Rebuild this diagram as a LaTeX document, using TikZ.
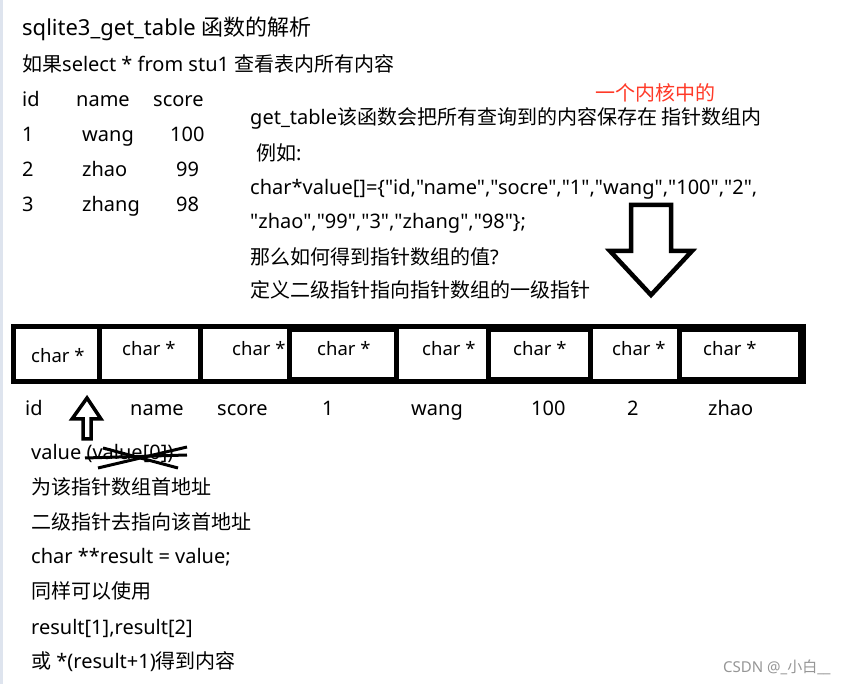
\documentclass[tikz,border=0pt]{standalone}
\usepackage{fontspec}
\setmainfont{Noto Sans}
\newfontfamily\cjk{Noto Sans CJK SC}
\newfontfamily\codefont{Noto Sans}
\usetikzlibrary{positioning}
\definecolor{notered}{RGB}{255,58,40}
\definecolor{edgegray}{RGB}{222,228,238}
\definecolor{markgray}{RGB}{150,150,150}
\tikzset{
  txt/.style={anchor=base west,inner sep=0pt,font=\fontsize{20}{24}\selectfont},
  ttl/.style={txt,font=\fontsize{22}{26}\selectfont},
  celltxt/.style={anchor=base west,inner sep=0pt,font=\fontsize{18.5}{22}\selectfont},
  lbl/.style={anchor=base west,inner sep=0pt,font=\fontsize{20}{24}\selectfont},
  cellbox/.style={line width=5pt},
  cellin/.style={line width=3pt},
  blockarrow/.style={line width=4.5pt,line join=miter},
  crossout/.style={line width=3pt}
}

\begin{document}
\begin{tikzpicture}[x=1pt,y=-1pt]
  \useasboundingbox (0,0) rectangle (847,684);
  \fill[white] (0,0) rectangle (847,684);
  \fill[edgegray] (0,0) rectangle (2.5,684);

  % Title and query
  \node[ttl] (title) at (22,36) {sqlite3\_get\_table {\cjk 函数的解析}};
  \node[txt] (query) at (22,72) {{\cjk 如果}select * from stu1 {\cjk 查看表内所有内容}};

  % Table of stu1
  \node[txt] (hid) at (22,107) {id};
  \node[txt] (hname) at (76,107) {name};
  \node[txt] (hscore) at (153,107) {score};
  \node[txt] (ra1) at (22,142) {1};
  \node[txt] (rb1) at (82,142) {wang};
  \node[txt] (rc1) at (170,142) {100};
  \node[txt] (ra2) at (22,177) {2};
  \node[txt] (rb2) at (82,177) {zhao};
  \node[txt] (rc2) at (176,177) {99};
  \node[txt] (ra3) at (22,212) {3};
  \node[txt] (rb3) at (82,212) {zhang};
  \node[txt] (rc3) at (176,212) {98};

  % Explanation on the right
  \node[lbl,text=notered] (kernel) at (595,101) {\cjk 一个内核中的};
  \node[txt] (gettab) at (250,125) {get\_table{\cjk 该函数会把所有查询到的内容保存在 指针数组内}};
  \node[txt] (eg) at (256,161) {{\cjk 例如}:};
  \node[txt] (arr1) at (250,195) {\codefont char*value[]=\{"id,"name","socre","1","wang","100","2",};
  \node[txt] (arr2) at (250,229) {\codefont "zhao","99","3","zhang","98"\};};
  \node[txt] (ask) at (250,265) {{\cjk 那么如何得到指针数组的值}?};
  \node[txt] (ans) at (250,298) {\cjk 定义二级指针指向指针数组的一级指针};

  % Drawing down arrow
  \draw[blockarrow] (631,205) -- (671,205) -- (671,251) -- (692,251) -- (651,295)
    -- (610,251) -- (631,251) -- cycle;

  % Drawing pointer array cells
  \draw[cellbox] (13.5,326.5) rectangle (802,382);
  \draw[line width=8pt] (802,324) -- (802,384.5);
  \draw[cellbox] (99.5,326.5) -- (99.5,382);
  \draw[cellbox] (200.5,326.5) -- (200.5,382);
  \draw[cellbox] (289.5,326.5) -- (289.5,382);
  \draw[cellbox] (396.5,326.5) -- (396.5,382);
  \draw[cellbox] (488.5,326.5) -- (488.5,382);
  \draw[cellbox] (590.5,326.5) -- (590.5,382);
  \draw[cellbox] (679.5,326.5) -- (679.5,382);
  \draw[cellin] (289.5,330.5) rectangle (396.5,378.5);
  \draw[cellin] (488.5,330.5) rectangle (590.5,378.5);
  \draw[cellin] (679.5,330.5) rectangle (800,378.5);

  \node[celltxt] (c1) at (31,363) {char *};
  \node[celltxt] (c2) at (122,356) {char *};
  \node[celltxt] (c3) at (232,356) {char *};
  \node[celltxt] (c4) at (317,356) {char *};
  \node[celltxt] (c5) at (422,356) {char *};
  \node[celltxt] (c6) at (513,356) {char *};
  \node[celltxt] (c7) at (612,356) {char *};
  \node[celltxt] (c8) at (703,356) {char *};

  % Marking cell contents
  \node[lbl] (lid) at (25,416) {id};
  \node[lbl] (lname) at (130,416) {name};
  \node[lbl] (lscore) at (217,416) {score};
  \node[lbl] (lone) at (322,416) {1};
  \node[lbl] (lwang) at (411,416) {wang};
  \node[lbl] (lhund) at (531,416) {100};
  \node[lbl] (ltwo) at (627,416) {2};
  \node[lbl] (lzhao) at (708,416) {zhao};

  % Drawing up arrow
  \draw[line width=3.5pt,line join=miter] (87,398) -- (101,419) -- (91,419) -- (91,439)
    -- (83,439) -- (83,419) -- (72,419) -- cycle;

  % Notes below
  \node[txt] (val) at (31,460) {value (value[0])};
  \node[txt] (n1) at (31,495) {\cjk 为该指针数组首地址};
  \node[txt] (n2) at (31,530) {\cjk 二级指针去指向该首地址};
  \node[txt] (n3) at (31,564) {char **result = value;};
  \node[txt] (n4) at (31,599) {\cjk 同样可以使用};
  \node[txt] (n5) at (31,634) {result[1],result[2]};
  \node[txt] (n6) at (31,669) {{\cjk 或} *(result+1){\cjk 得到内容}};

  % Crossing out value[0]
  \draw[crossout] (85,458) -- (187,455);
  \draw[crossout] (103,448) -- (178,468);
  \draw[crossout] (98,468) -- (187,447);

  % Watermark
  \node[anchor=base west,inner sep=0pt,text=markgray,font=\fontsize{15}{17}\selectfont]
    (mark) at (723,672) {CSDN @\_{\cjk 小白}\_\_};
\end{tikzpicture}
\end{document}
